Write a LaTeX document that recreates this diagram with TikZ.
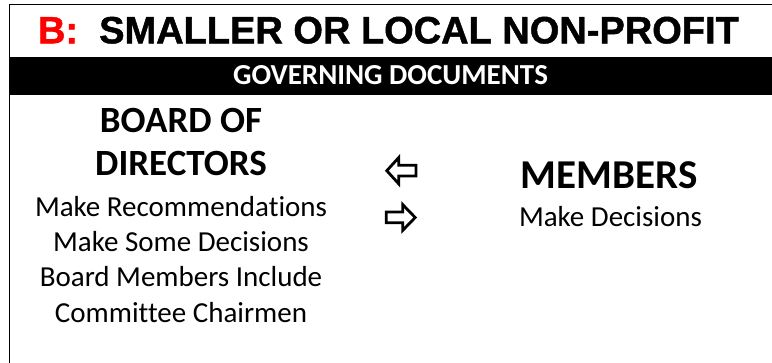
\documentclass[tikz,border=0pt]{standalone}
\usepackage{fontspec}
\setmainfont{Carlito}[Ligatures={NoCommon}]
\newfontfamily\titlefont{Liberation Sans Bold}[FakeBold=1.2]
\definecolor{titlered}{RGB}{255,0,0}
\tikzset{
  txt/.style={inner sep=0pt, outer sep=0pt, anchor=base},
  titletxt/.style={txt, anchor=base west, font=\titlefont\fontsize{38}{42}\selectfont},
  bartxt/.style={txt, text=white, font=\bfseries\fontsize{29}{33}\selectfont},
  headtxt/.style={txt, font=\bfseries\fontsize{37}{42}\selectfont},
  memtxt/.style={txt, font=\bfseries\fontsize{41}{46}\selectfont},
  bodytxt/.style={txt, font=\fontsize{29}{33}\selectfont},
  outlinearrow/.style={draw=black, line width=2.8pt, fill=white, line join=miter}
}
\begin{document}
\begin{tikzpicture}[x=1pt,y=-1pt]
\useasboundingbox (0,0) rectangle (772,362);
\clip (0,0) rectangle (772,362);
% outer frame
\draw[line width=0.9pt] (9,4.3) rectangle (800,400);
% black bar
\fill[black] (9,56.7) rectangle (790,95);
% title
\node[titletxt] (title) at (38,43.3) {\textcolor{titlered}{B:}\ \ SMALLER OR LOCAL NON-PROFIT};
\node[bartxt] (bar) at (390.5,84) {GOVERNING DOCUMENTS};
% left column
\node[headtxt] (board1) at (181,132) {BOARD OF};
\node[headtxt] (board2) at (181,175.5) {DIRECTORS};
\node[bodytxt] (l1) at (181,216) {Make Recommendations};
\node[bodytxt] (l2) at (181,251) {Make Some Decisions};
\node[bodytxt] (l3) at (181,286.5) {Board Members Include};
\node[bodytxt] (l4) at (181,322) {Committee Chairmen};
% right column
\node[memtxt] (members) at (609,188) {MEMBERS};
\node[bodytxt] (r1) at (610.5,226) {Make Decisions};
% arrows
\draw[outlinearrow] (386.8,170.7) -- (398.7,157.6) -- (398.7,165.3) -- (416,165.3) -- (416,176) -- (398.7,176) -- (398.7,183.8) -- cycle;
\draw[outlinearrow] (415.2,217.5) -- (402.7,204.6) -- (402.7,212) -- (386.3,212) -- (386.3,222.7) -- (402.7,222.7) -- (402.7,230.4) -- cycle;
\end{tikzpicture}
\end{document}
